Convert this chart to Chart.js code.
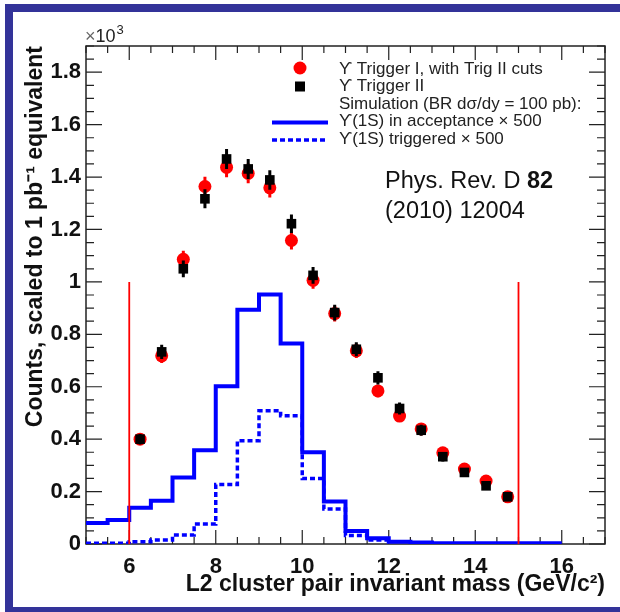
<!DOCTYPE html>
<html><head><meta charset="utf-8">
<script src="https://cdn.jsdelivr.net/npm/chart.js@4.4.0/dist/chart.umd.min.js"></script>
<style>
html,body{margin:0;padding:0;background:#fff;}
#wrap{position:relative;width:620px;height:612px;overflow:hidden;background:#fff;}
.bar{position:absolute;background:#333399;}
canvas{position:absolute;left:0;top:0;}
</style></head><body>
<div id="wrap">
<canvas id="c" width="620" height="612"></canvas>
<div class="bar" style="left:5px;top:4px;width:615px;height:8px"></div>
<div class="bar" style="left:5px;top:4px;width:8px;height:608px"></div>
<div class="bar" style="left:5px;top:607px;width:615px;height:5px"></div>
</div>
<script>
// ---- data (y in units of 10^3 counts) ----
const binEdges = [5,5.5,6,6.5,7,7.5,8,8.5,9,9.5,10,10.5,11,11.5,12,12.5,13,13.5,14,14.5,15,15.5,16];
const acceptanceX500 = [0.080,0.092,0.138,0.165,0.254,0.358,0.602,0.894,0.952,0.765,0.350,0.162,0.050,0.022,0.009,0.006,0.003,0.003,0.003,0.003,0.003,0.003];
const triggeredX500 = [0.003,0.003,0.009,0.015,0.034,0.076,0.227,0.394,0.508,0.489,0.250,0.134,0.032,0.015];
const massCenters = [6.25,6.75,7.25,7.75,8.25,8.75,9.25,9.75,10.25,10.75,11.25,11.75,12.25,12.75,13.25,13.75,14.25,14.75];
const trigger1 = [0.400,0.718,1.086,1.364,1.437,1.414,1.359,1.158,1.006,0.879,0.737,0.584,0.488,0.439,0.348,0.286,0.240,0.180];
const trigger1Err = [0.020,0.027,0.033,0.037,0.038,0.038,0.037,0.034,0.032,0.030,0.027,0.024,0.022,0.021,0.019,0.017,0.015,0.013];
const trigger2 = [0.400,0.733,1.050,1.317,1.469,1.431,1.389,1.222,1.025,0.883,0.743,0.634,0.517,0.434,0.333,0.273,0.222,0.180];
const trigger2Err = [0.020,0.027,0.032,0.036,0.038,0.038,0.037,0.035,0.032,0.030,0.027,0.025,0.023,0.021,0.018,0.017,0.015,0.013];
const massCuts = [6, 15];
const cutLineTop = 1.0;
const xTickValues = [6,8,10,12,14,16];
const xTickLabels = ['6','8','10','12','14','16'];
const yTickValues = [0,0.2,0.4,0.6,0.8,1.0,1.2,1.4,1.6,1.8];
const yTickLabels = ['0','0.2','0.4','0.6','0.8','1','1.2','1.4','1.6','1.8'];
const legendLabels = ['\u03D2 Trigger I, with Trig II cuts','\u03D2 Trigger II','Simulation (BR d\u03C3/dy = 100 pb):','\u03D2(1S) in acceptance \u00D7 500','\u03D2(1S) triggered \u00D7 500'];

const FONT = '"Liberation Sans", Arial, Helvetica, sans-serif';

function histPoints(edges, vals){
  const pts = vals.map((v,i)=>({x:edges[i], y:v}));
  pts.push({x:edges[vals.length], y:vals[vals.length-1]});
  return pts;
}

function drawErr(chart, xs, ys, es, color){
  const {ctx, scales:{x,y}} = chart;
  ctx.save();
  ctx.strokeStyle = color; ctx.lineWidth = 3;
  ctx.beginPath();
  xs.forEach((m,i)=>{
    const px = x.getPixelForValue(m);
    ctx.moveTo(px, y.getPixelForValue(ys[i]-es[i]));
    ctx.lineTo(px, y.getPixelForValue(ys[i]+es[i]));
  });
  ctx.stroke();
  ctx.restore();
}

const decor = {
  id:'decor',
  beforeDatasetsDraw(chart){
    const {ctx, chartArea:a, scales:{x,y}} = chart;
    ctx.save();
    ctx.strokeStyle = '#222'; ctx.lineWidth = 1.2;
    ctx.beginPath();
    for (let k=0; k<=24; k++){
      const v = 5 + k*0.5;
      const px = x.getPixelForValue(v);
      const L = (k%4===2) ? 14 : 7;
      ctx.moveTo(px, a.bottom); ctx.lineTo(px, a.bottom-L);
      ctx.moveTo(px, a.top); ctx.lineTo(px, a.top+L);
    }
    for (let k=0; k<=38; k++){
      const v = k*0.05;
      const py = y.getPixelForValue(v);
      const L = (k%4===0) ? 16 : 8;
      ctx.moveTo(a.left, py); ctx.lineTo(a.left+L, py);
      ctx.moveTo(a.right, py); ctx.lineTo(a.right-L, py);
    }
    ctx.stroke();
    ctx.lineWidth = 1.5;
    ctx.strokeRect(a.left, a.top, a.right-a.left, a.bottom-a.top);
    ctx.restore();
  },
  beforeDatasetDraw(chart, args){
    const lbl = chart.data.datasets[args.index].label;
    if (lbl === 'trig1') drawErr(chart, massCenters, trigger1, trigger1Err, '#ff0000');
    if (lbl === 'trig2') drawErr(chart, massCenters, trigger2, trigger2Err, '#000000');
  },
  afterDraw(chart){
    const {ctx} = chart;
    ctx.save();
    // x10^3
    ctx.textBaseline = 'alphabetic'; ctx.textAlign = 'left';
    ctx.font = '18px ' + FONT;
    ctx.fillStyle = '#666';
    ctx.fillText('\u00D7', 85, 42);
    const w1 = ctx.measureText('\u00D7').width;
    ctx.fillStyle = '#222';
    ctx.fillText('10', 85+w1, 42);
    const w2 = ctx.measureText('10').width;
    ctx.font = '13px ' + FONT;
    ctx.fillText('3', 85+w1+w2+1, 34);

    // legend
    ctx.font = '17px ' + FONT;
    ctx.fillStyle = '#222';
    const tx = 339, bl = [73.5, 91, 108.5, 126, 143.5];
    legendLabels.forEach((t,i)=>ctx.fillText(t, tx, bl[i]));
    ctx.fillStyle = '#ff0000';
    ctx.beginPath(); ctx.arc(300, 68, 6.5, 0, Math.PI*2); ctx.fill();
    ctx.fillStyle = '#000';
    ctx.fillRect(295, 81.5, 10, 10);
    ctx.strokeStyle = '#0000ff'; ctx.lineWidth = 4; ctx.lineCap='butt';
    ctx.beginPath(); ctx.moveTo(272, 122.5); ctx.lineTo(328, 122.5); ctx.stroke();
    ctx.lineWidth = 3.5; ctx.setLineDash([5,3]);
    ctx.beginPath(); ctx.moveTo(272, 140); ctx.lineTo(328, 140); ctx.stroke();
    ctx.setLineDash([]);

    // reference
    ctx.fillStyle = '#111';
    ctx.font = '23.5px ' + FONT;
    const s1 = 'Phys. Rev. D ';
    ctx.fillText(s1, 385, 188);
    const ws = ctx.measureText(s1).width;
    ctx.font = 'bold 23.5px ' + FONT;
    ctx.fillText('82', 385+ws, 188);
    ctx.font = '23.5px ' + FONT;
    ctx.fillText('(2010) 12004', 385, 218);
    ctx.restore();
  }
};

const tickFont = {family: FONT, size: 22, weight: 'bold'};
const titleFont = {family: FONT, size: 23, weight: 'bold'};

new Chart(document.getElementById('c'), {
  type: 'line',
  data: {
    datasets: [
      {label:'trig2', data: massCenters.map((m,i)=>({x:m, y:trigger2[i]})), showLine:false,
       pointStyle:'rect', pointRadius:6.8, backgroundColor:'#000', borderColor:'#000', borderWidth:0, order:0},
      {label:'trig1', data: massCenters.map((m,i)=>({x:m, y:trigger1[i]})), showLine:false,
       pointStyle:'circle', pointRadius:6.5, backgroundColor:'#ff0000', borderColor:'#ff0000', borderWidth:0, order:1},
      {label:'cutLow', data:[{x:massCuts[0], y:0},{x:massCuts[0], y:cutLineTop}], borderColor:'#ff0000', borderWidth:1.8, pointRadius:0, order:2},
      {label:'cutHigh', data:[{x:massCuts[1], y:0},{x:massCuts[1], y:cutLineTop}], borderColor:'#ff0000', borderWidth:1.8, pointRadius:0, order:3},
      {label:'acceptance', data: histPoints(binEdges, acceptanceX500), stepped:'before', borderColor:'#0000ff', borderWidth:4,
       pointRadius:0, borderJoinStyle:'miter', borderCapStyle:'butt', fill:false, order:4},
      {label:'triggered', data: histPoints(binEdges, triggeredX500), stepped:'before', borderColor:'#0000ff', borderWidth:3.5,
       borderDash:[5,3], pointRadius:0, borderJoinStyle:'miter', borderCapStyle:'butt', fill:false, order:5}
    ]
  },
  options: {
    responsive:false, animation:false, devicePixelRatio:1,
    layout:{padding:{top:46, right:15, left:0, bottom:0}},
    plugins:{legend:{display:false}, tooltip:{enabled:false}},
    scales:{
      x:{type:'linear', min:5, max:17,
        afterBuildTicks:s=>{ s.ticks = xTickValues.map(v=>({value:v})); },
        afterFit:s=>{ s.height = 68; },
        grid:{display:false, drawTicks:false}, border:{display:false},
        ticks:{font:tickFont, color:'#111', padding:10, autoSkip:false, maxRotation:0,
          callback:(v,i)=>xTickLabels[i]},
        title:{display:true, text:'L2 cluster pair invariant mass (GeV/c\u00B2)', align:'end', font:titleFont, color:'#111', padding:{top:0,bottom:14}}
      },
      y:{type:'linear', min:0, max:1.9,
        afterBuildTicks:s=>{ s.ticks = yTickValues.map(v=>({value:v})); },
        afterFit:s=>{ s.width = 86; },
        grid:{display:false, drawTicks:false}, border:{display:false},
        ticks:{font:tickFont, color:'#111', padding:5, autoSkip:false,
          callback:(v,i)=>yTickLabels[i]},
        title:{display:true, text:'Counts, scaled to 1 pb\u207B\u00B9 equivalent', align:'end', font:titleFont, color:'#111', padding:{top:22,bottom:0}}
      }
    }
  },
  plugins:[decor]
});
</script>
</body></html>
